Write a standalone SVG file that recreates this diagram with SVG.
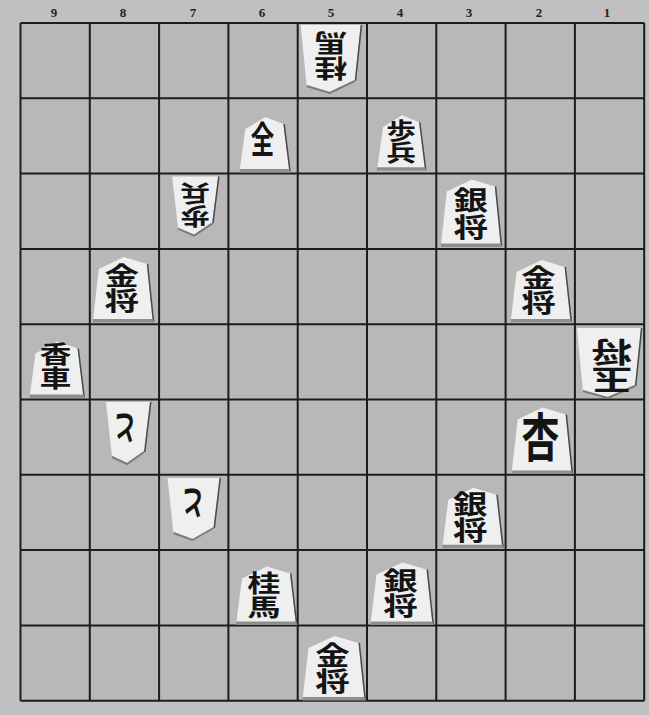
<svg xmlns="http://www.w3.org/2000/svg" width="649" height="715" viewBox="0 0 649 715">
<style>
.face{fill:#efefef}
.side{fill:#4a4a4a}
.band{fill:#8f8f8f}
.edge{fill:none;stroke:#7a7a7a;stroke-width:2}
.ch{font-family:"Noto Sans CJK JP","Noto Sans CJK SC",sans-serif;font-weight:700;font-size:30px;text-anchor:middle;fill:#141414}
.v{writing-mode:vertical-rl}
.s{font-size:27px}
.lbl{font-family:"Liberation Serif",serif;font-weight:700;font-size:13px;text-anchor:middle;fill:#222}
.grid{fill:none;stroke:#1c1c1c;stroke-width:2}
</style>
<rect x="0" y="0" width="649" height="715" fill="#c0c0c0"/>
<rect x="20.5" y="23" width="623.7" height="677.7" fill="#b8b8b8"/>
<g id="labels">
<text class="lbl" x="54" y="17">9</text>
<text class="lbl" x="123" y="17">8</text>
<text class="lbl" x="193" y="17">7</text>
<text class="lbl" x="262" y="17">6</text>
<text class="lbl" x="331" y="17">5</text>
<text class="lbl" x="400" y="17">4</text>
<text class="lbl" x="469" y="17">3</text>
<text class="lbl" x="539" y="17">2</text>
<text class="lbl" x="607" y="17">1</text>
</g>
<g id="grid">
<path class="grid" d="M20.5,23V700.7M89.8,23V700.7M159.1,23V700.7M228.4,23V700.7M297.7,23V700.7M367,23V700.7M436.3,23V700.7M505.6,23V700.7M574.9,23V700.7M644.2,23V700.7"/>
<path class="grid" d="M20.5,23H644.2M20.5,98.3H644.2M20.5,173.6H644.2M20.5,248.9H644.2M20.5,324.2H644.2M20.5,399.5H644.2M20.5,474.8H644.2M20.5,550.1H644.2M20.5,625.4H644.2M20.5,700.7H644.2"/>
</g>

<g id="p51" transform="translate(330.7,25)">
<path class="face" d="M-30,0L30,0L24,56L-1,68L-24,61Z"/>
<path class="side" d="M30,0L31.5,0L25.5,56L24,56Z"/>
<path class="edge" d="M24,56L-1,68L-24,61"/>
<g transform="rotate(180)">
<text class="ch v" transform="translate(0,-30.8) scale(1.1,0.82)">桂馬</text>
</g>
</g>

<g id="p62" transform="translate(264.4,172)">
<path class="face" d="M-25,0L-19,-43L1,-55L19,-48L25,0Z"/>
<path class="side" d="M19,-48L20.5,-48L26.5,0L25,0Z"/>
<path class="band" d="M-25,-3L25,-3L26.5,0.5L-25,0.5Z"/>
<text class="ch" style="font-size:26px" transform="translate(-2,-18.7) scale(0.9,1.4)">全</text>
</g>

<g id="p42" transform="translate(401,170.3)">
<path class="face" d="M-24,0L-18,-43L1,-55L18,-48L24,0Z"/>
<path class="side" d="M18,-48L19.5,-48L25.5,0L24,0Z"/>
<path class="band" d="M-24,-3L24,-3L25.5,0.5L-24,0.5Z"/>
<text class="ch v s" transform="translate(0,-28.9) scale(1.1,0.83)">歩兵</text>
</g>

<g id="p73" transform="translate(195.1,176.6)">
<path class="face" d="M-23,0L23,0L17,47L-1,59L-17,52Z"/>
<path class="side" d="M23,0L24.5,0L18.5,47L17,47Z"/>
<path class="edge" d="M17,47L-1,59L-17,52"/>
<g transform="rotate(180)">
<text class="ch v s" transform="translate(0,-28.3) scale(1.1,0.83)">歩兵</text>
</g>
</g>

<g id="p33" transform="translate(470.8,246.6)">
<path class="face" d="M-30,0L-24,-55L1,-67L24,-60L30,0Z"/>
<path class="side" d="M24,-60L25.5,-60L31.5,0L30,0Z"/>
<path class="band" d="M-30,-3L30,-3L31.5,0.5L-30,0.5Z"/>
<text class="ch v" transform="translate(0,-33.3) scale(1.15,0.88)">銀将</text>
</g>

<g id="p84" transform="translate(122.8,321.9)">
<path class="face" d="M-30,0L-24,-53L1,-65L24,-58L30,0Z"/>
<path class="side" d="M24,-58L25.5,-58L31.5,0L30,0Z"/>
<path class="band" d="M-30,-3L30,-3L31.5,0.5L-30,0.5Z"/>
<text class="ch v" transform="translate(-1,-34.3) scale(1.15,0.85)">金将</text>
</g>

<g id="p24" transform="translate(540.6,321.9)">
<path class="face" d="M-30,0L-24,-50L1,-62L24,-55L30,0Z"/>
<path class="side" d="M24,-55L25.5,-55L31.5,0L30,0Z"/>
<path class="band" d="M-30,-3L30,-3L31.5,0.5L-30,0.5Z"/>
<text class="ch v" transform="translate(-2,-31.9) scale(1.15,0.84)">金将</text>
</g>

<g id="p95" transform="translate(56.5,397.5)">
<path class="face" d="M-27,0L-21,-44L1,-56L21,-49L27,0Z"/>
<path class="side" d="M21,-49L22.5,-49L28.5,0L27,0Z"/>
<path class="band" d="M-27,-3L27,-3L28.5,0.5L-27,0.5Z"/>
<text class="ch v" transform="translate(-1,-32) scale(1.05,0.8)">香車</text>
</g>

<g id="p15" transform="translate(608.9,328)">
<path class="face" d="M-32,0L32,0L26,58L-1,70L-26,63Z"/>
<path class="side" d="M32,0L33.5,0L27.5,58L26,58Z"/>
<path class="edge" d="M26,58L-1,70L-26,63"/>
<g transform="rotate(180)">
<text class="ch v" style="font-size:34px" transform="translate(-3,-38) scale(1.2,0.83)">玉将</text>
</g>
</g>

<g id="p86" transform="translate(128,402)">
<path class="face" d="M-22,0L22,0L16,50L-1,62L-16,55Z"/>
<path class="side" d="M22,0L23.5,0L17.5,50L16,50Z"/>
<path class="edge" d="M16,50L-1,62L-16,55"/>
<g transform="rotate(180)">
<text class="ch" style="font-size:28px" transform="translate(3,-12.9) scale(0.85,1.2)">と</text>
</g>
</g>

<g id="p77" transform="translate(193.5,478)">
<path class="face" d="M-26,0L26,0L20,50L-1,62L-20,55Z"/>
<path class="side" d="M26,0L27.5,0L21.5,50L20,50Z"/>
<path class="edge" d="M20,50L-1,62L-20,55"/>
<g transform="rotate(180)">
<text class="ch" style="font-size:28px" transform="translate(0.5,-11.9) scale(0.85,1.2)">と</text>
</g>
</g>

<g id="p26" transform="translate(541.6,473.5)">
<path class="face" d="M-30,0L-24,-54L1,-66L24,-59L30,0Z"/>
<path class="side" d="M24,-59L25.5,-59L31.5,0L30,0Z"/>
<path class="band" d="M-30,-3L30,-3L31.5,0.5L-30,0.5Z"/>
<text class="ch" style="font-size:40px" transform="translate(-1,-16.2) scale(0.95,1.3)">杏</text>
</g>

<g id="p37" transform="translate(472.3,547.8)">
<path class="face" d="M-30,0L-24,-48L1,-60L24,-53L30,0Z"/>
<path class="side" d="M24,-53L25.5,-53L31.5,0L30,0Z"/>
<path class="band" d="M-30,-3L30,-3L31.5,0.5L-30,0.5Z"/>
<text class="ch v" transform="translate(-2,-31) scale(1.15,0.88)">銀将</text>
</g>

<g id="p68" transform="translate(266,624.5)">
<path class="face" d="M-30,0L-24,-46L1,-58L24,-51L30,0Z"/>
<path class="side" d="M24,-51L25.5,-51L31.5,0L30,0Z"/>
<path class="band" d="M-30,-3L30,-3L31.5,0.5L-30,0.5Z"/>
<text class="ch v" transform="translate(-2,-29.5) scale(1.1,0.78)">桂馬</text>
</g>

<g id="p48" transform="translate(401.5,624.5)">
<path class="face" d="M-31,0L-25,-50L1,-62L25,-55L31,0Z"/>
<path class="side" d="M25,-55L26.5,-55L32.5,0L31,0Z"/>
<path class="band" d="M-31,-3L31,-3L32.5,0.5L-31,0.5Z"/>
<text class="ch v" transform="translate(-1,-31.5) scale(1.15,0.84)">銀将</text>
</g>

<g id="p59" transform="translate(333.5,700)">
<path class="face" d="M-31,0L-25,-52L1,-64L25,-57L31,0Z"/>
<path class="side" d="M25,-57L26.5,-57L32.5,0L31,0Z"/>
<path class="band" d="M-31,-3L31,-3L32.5,0.5L-31,0.5Z"/>
<text class="ch v" transform="translate(-1,-32) scale(1.15,0.87)">金将</text>
</g>
</svg>
